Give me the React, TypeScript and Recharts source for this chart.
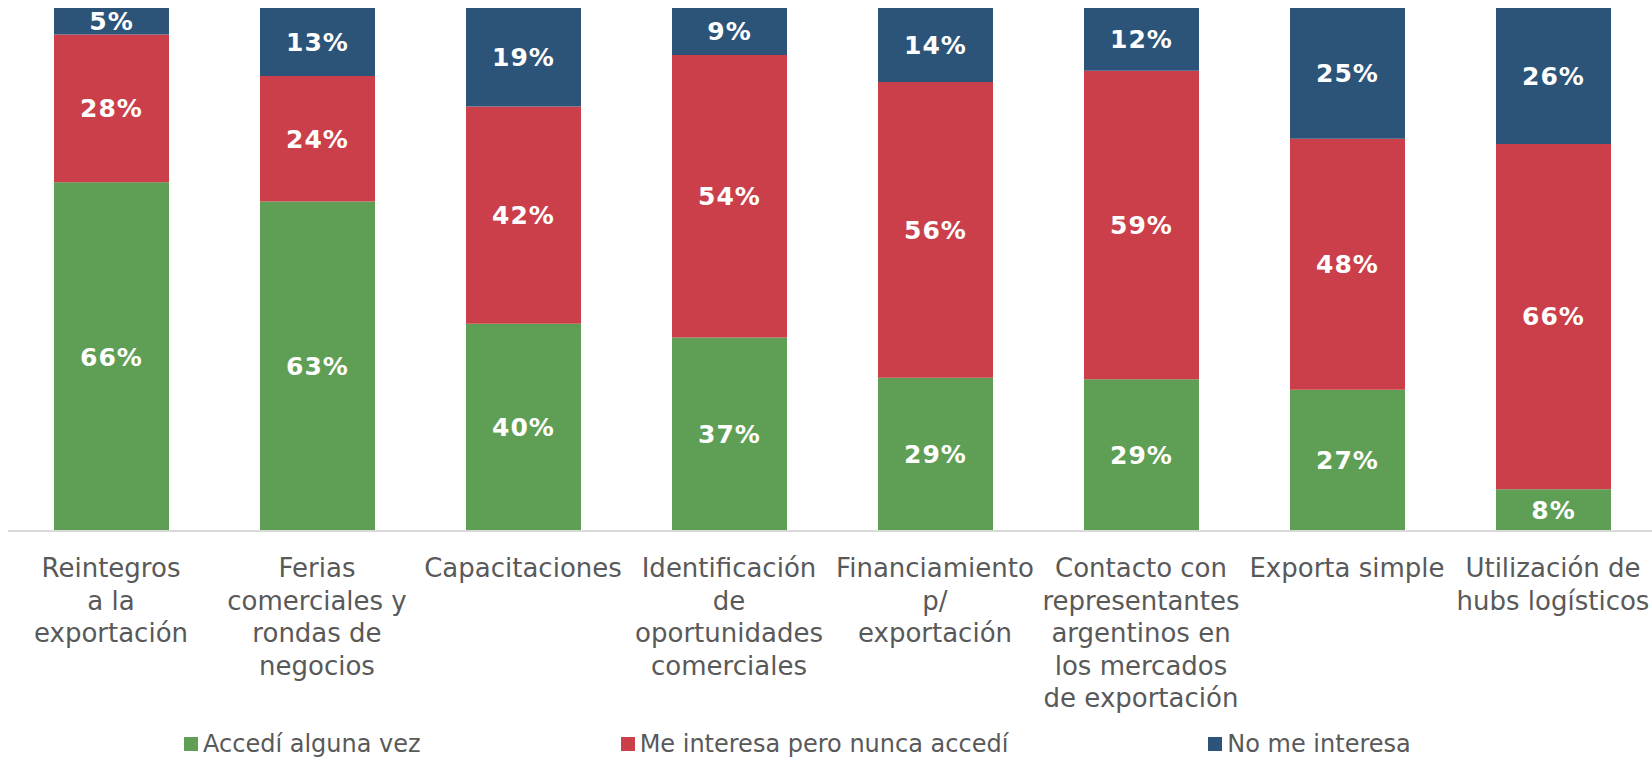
import React from "react";
import { BarChart, Bar, XAxis, YAxis, Legend, LabelList } from "recharts";

const categories = [
  "Reintegros\na la\nexportación",
  "Ferias\ncomerciales y\nrondas de\nnegocios",
  "Capacitaciones",
  "Identificación\nde\noportunidades\ncomerciales",
  "Financiamiento\np/\nexportación",
  "Contacto con\nrepresentantes\nargentinos en\nlos mercados\nde exportación",
  "Exporta simple",
  "Utilización de\nhubs logísticos",
];
const accedi = [66, 63, 40, 37, 29, 29, 27, 8];
const interesa = [28, 24, 42, 54, 56, 59, 48, 66];
const noInteresa = [5, 13, 19, 9, 14, 12, 25, 26];

const seriesNames = ["Accedí alguna vez", "Me interesa pero nunca accedí", "No me interesa"];
const colors = ["#5F9E55", "#CB3F4A", "#2C5478"];

const data = categories.map((c, i) => ({
  name: c,
  accedi: accedi[i],
  interesa: interesa[i],
  noInteresa: noInteresa[i],
}));

const FONT = "'DejaVu Sans', Verdana, sans-serif";

const Tick = (props: any) => {
  const { x, y, payload } = props;
  const lines = String(payload.value).split("\n");
  return (
    <text x={x} y={y} textAnchor="middle" fill="#595959" fontSize={26} fontFamily={FONT}>
      {lines.map((l, i) => (
        <tspan key={i} x={x} dy={i === 0 ? 46 : 32.5}>
          {l}
        </tspan>
      ))}
    </text>
  );
};

const LegendContent = () => (
  <div
    style={{
      display: "flex",
      justifyContent: "flex-start",
      alignItems: "center",
      paddingLeft: 176,
      gap: 200,
      height: 30,
      fontFamily: FONT,
      fontSize: 24,
      color: "#595959",
    }}
  >
    {seriesNames.map((n, i) => (
      <div key={n} style={{ display: "flex", alignItems: "center", whiteSpace: "nowrap" }}>
        <div style={{ width: 14, height: 14, background: colors[i], marginRight: 5 }} />
        <span style={{ lineHeight: "30px" }}>{n}</span>
      </div>
    ))}
  </div>
);

const fmt = (v: any) => `${v}%`;
const labelProps = {
  position: "center" as const,
  formatter: fmt,
  fill: "#FFFFFF",
  fontSize: 25,
  fontWeight: "bold",
  fontFamily: FONT,
  letterSpacing: 1,
};

export default function App() {
  return (
    <div style={{ position: "absolute", left: 8, top: 8, width: 1644, height: 751, overflow: "hidden" }}>
      <BarChart
        width={1648}
        height={751}
        data={data}
        stackOffset="expand"
        margin={{ top: 0, right: 0, bottom: 0, left: 0 }}
        barSize={115}
      >
        <XAxis
          dataKey="name"
          interval={0}
          height={198}
          tick={<Tick />}
          tickLine={false}
          tickSize={0}
          tickMargin={0}
          axisLine={{ stroke: "#D9D9D9", strokeWidth: 2 }}
        />
        <YAxis hide domain={[0, 1]} />
        <Legend verticalAlign="bottom" content={<LegendContent />} wrapperStyle={{ height: 30 }} />
        <Bar dataKey="accedi" stackId="a" fill={colors[0]} isAnimationActive={false} name={seriesNames[0]}>
          <LabelList dataKey="accedi" {...labelProps} />
        </Bar>
        <Bar dataKey="interesa" stackId="a" fill={colors[1]} isAnimationActive={false} name={seriesNames[1]}>
          <LabelList dataKey="interesa" {...labelProps} />
        </Bar>
        <Bar dataKey="noInteresa" stackId="a" fill={colors[2]} isAnimationActive={false} name={seriesNames[2]}>
          <LabelList dataKey="noInteresa" {...labelProps} />
        </Bar>
      </BarChart>
    </div>
  );
}
